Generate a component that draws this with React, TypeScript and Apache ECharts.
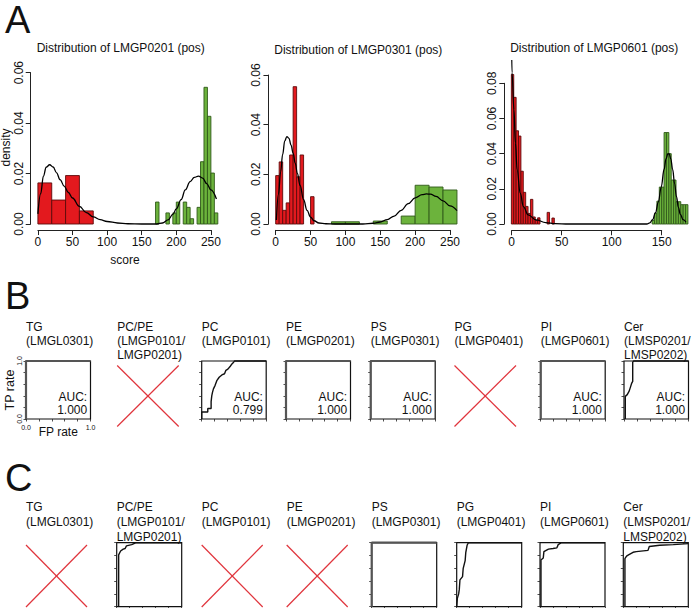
import React, { useEffect, useRef } from "react";
import * as echarts from "echarts";

// ---------------- DATA ----------------
const histTitles = [
  "Distribution of LMGP0201 (pos)",
  "Distribution of LMGP0301 (pos)",
  "Distribution of LMGP0601 (pos)",
];

const a1XTicks = [0, 50, 100, 150, 200, 250];
const a1YTicks = [0, 0.02, 0.04, 0.06];
const a1RedBreaks = [0, 20, 40, 60, 80];
const a1RedDensity = [0.0163, 0.0095, 0.0192, 0.0052];
const a1GreenBreaks = [170, 175, 180, 185, 190, 195, 200, 205, 210, 215, 220, 225, 230, 235, 240, 245, 250, 255, 260];
const a1GreenDensity = [0.0087, 0, 0, 0.0044, 0, 0.0044, 0.0087, 0, 0.0087, 0.0066, 0.0021, 0, 0.0066, 0.0247, 0.0542, 0.0427, 0.0202, 0.0044];
const a1Curve = [
  [0, 0.004], [4, 0.012], [8, 0.019], [12, 0.0225], [17, 0.0235], [22, 0.0226], [27, 0.0203], [32, 0.0176],
  [38, 0.015], [44, 0.0125], [50, 0.0103], [60, 0.007], [70, 0.0045], [80, 0.0028], [90, 0.0017], [100, 0.001],
  [115, 0.0004], [130, 0.0001], [150, 0], [172, 0], [180, 0.0004], [188, 0.0016], [195, 0.0038], [200, 0.006],
  [207, 0.0097], [213, 0.0135], [220, 0.0168], [226, 0.0185], [232, 0.019], [238, 0.0182], [244, 0.016],
  [250, 0.0135], [258, 0.0099],
];

const a2XTicks = [0, 50, 100, 150, 200, 250];
const a2YTicks = [0, 0.02, 0.04, 0.06];
const a2RedBreaks = [0, 5, 10, 15, 20, 25, 30, 35, 40, 45, 50, 55];
const a2RedDensity = [0.0195, 0.025, 0.0055, 0.0085, 0.0278, 0.0553, 0.019, 0.0278, 0, 0, 0.011];
const a2GreenBreaks = [80, 100, 120, 140, 160, 180, 200, 220, 240, 260];
const a2GreenDensity = [0.0009, 0.0009, 0, 0.0012, 0, 0.0032, 0.0156, 0.0149, 0.0137];
const a2Curve = [
  [1, 0.0016], [4, 0.012], [7, 0.021], [10, 0.028], [13, 0.0335], [16, 0.0352], [19, 0.0345], [22, 0.0318],
  [25, 0.0285], [28, 0.0245], [31, 0.0205], [35, 0.0155], [40, 0.0098], [45, 0.0055], [50, 0.0028],
  [55, 0.0013], [62, 0.0004], [72, 0.0001], [85, 0], [125, 0], [140, 0.0003], [150, 0.0008], [160, 0.0018],
  [170, 0.0032], [180, 0.0055], [190, 0.0082], [200, 0.0105], [210, 0.0118], [216, 0.0121], [222, 0.012],
  [230, 0.0111], [240, 0.0093], [250, 0.0073], [260, 0.0054],
];

const a3XTicks = [0, 50, 100, 150];
const a3YTicks = [0, 0.02, 0.04, 0.06, 0.08];
const a3RedBreaks = [0, 2.5, 5, 7.5, 10, 12.5, 15, 17.5, 20, 22.5, 25, 27.5, 30, 32.5, 35, 37.5, 40, 42.5, 45];
const a3RedDensity = [0.085, 0.072, 0.053, 0.05, 0.03, 0.018, 0.01, 0.006, 0.014, 0.004, 0.002, 0.0035, 0, 0, 0, 0.0066, 0, 0.0034];
const a3GreenBreaks = [147.5, 150, 152.5, 155, 157.5, 160, 162.5, 165, 167.5, 170, 172.5, 175, 177.5, 180, 182.5, 185];
const a3GreenDensity = [0.002, 0.006, 0.013, 0.021, 0.021, 0.052, 0.052, 0.04, 0.025, 0.025, 0.0127, 0.0127, 0.011, 0.011, 0.011];
const a3Curve = [
  [0, 0.11], [0.7, 0.086], [2.7, 0.065], [4.3, 0.046], [6, 0.031], [9.3, 0.0175], [12.6, 0.0099],
  [17.6, 0.0052], [26, 0.0023], [36, 0.0008], [46, 0.0002], [60, 0], [142, 0], [145, 0.0006], [148, 0.0025],
  [151, 0.0065], [154, 0.0125], [157, 0.021], [160, 0.031], [162, 0.037], [164, 0.04], [165.5, 0.0398],
  [167, 0.037], [169, 0.031], [171, 0.023], [173, 0.0155], [175, 0.0095], [177, 0.0055], [180, 0.0025], [183, 0.001],
];

const rocNames = [
  ["TG", "(LMGL0301)"],
  ["PC/PE", "(LMGP0101/", "LMGP0201)"],
  ["PC", "(LMGP0101)"],
  ["PE", "(LMGP0201)"],
  ["PS", "(LMGP0301)"],
  ["PG", "(LMGP0401)"],
  ["PI", "(LMGP0601)"],
  ["Cer", "(LMSP0201/", "LMSP0202)"],
];
const rocTicks = [0, 0.2, 0.4, 0.6, 0.8, 1.0];
const rocPerfect = [[0, 0], [0, 1], [1, 1]];
const rocB_PC = [
  [0, 0], [0, 0.12], [0.094, 0.12], [0.094, 0.18], [0.146, 0.18], [0.146, 0.3], [0.156, 0.4], [0.167, 0.46],
  [0.182, 0.52], [0.208, 0.58], [0.234, 0.66], [0.271, 0.72], [0.313, 0.76], [0.354, 0.78], [0.375, 0.84],
  [0.406, 0.86], [0.443, 0.91], [0.469, 0.95], [0.495, 0.98], [0.51, 1], [1, 1],
];
const rocB_Cer = [
  [0.02, 0], [0.02, 0.39], [0.05, 0.42], [0.08, 0.48], [0.1, 0.55], [0.12, 0.62], [0.135, 0.65],
  [0.135, 0.98], [0.15, 1], [1, 1],
];
const rocC_PCPE = [
  [0.03, 0], [0.03, 0.81], [0.06, 0.87], [0.1, 0.9], [0.13, 0.91], [0.15, 0.95], [0.23, 0.97], [0.3, 1], [1, 1],
];
const rocC_PG = [
  [0, 0], [0.01, 0.13], [0.03, 0.2], [0.04, 0.27], [0.05, 0.42], [0.09, 0.47], [0.1, 0.6], [0.13, 0.72],
  [0.14, 0.85], [0.16, 0.96], [0.18, 1], [1, 1],
];
const rocC_PI = [
  [0.015, 0], [0.015, 0.73], [0.05, 0.76], [0.06, 0.86], [0.13, 0.9], [0.2, 0.91], [0.26, 0.92], [0.28, 0.97],
  [0.33, 1], [1, 1],
];
const rocC_Cer = [
  [0.025, 0], [0.025, 0.75], [0.05, 0.79], [0.08, 0.81], [0.15, 0.85], [0.2, 0.86], [0.38, 0.88], [0.4, 0.94],
  [0.56, 0.96], [0.77, 0.97], [1, 0.985],
];
const bCurves = [rocPerfect, null, rocB_PC, rocPerfect, rocPerfect, null, rocPerfect, rocB_Cer];
const bAUC = ["1.000", null, "0.799", "1.000", "1.000", null, "1.000", "1.000"];
const cCurves = [null, rocC_PCPE, null, null, rocPerfect, rocC_PG, rocC_PI, rocC_Cer];
const crossDown = [[0, 1], [1, 0]];
const crossUp = [[0, 0], [1, 1]];

// ---------------- LAYOUT / STYLE ----------------
const FONT = '"Liberation Sans", Arial, Helvetica, sans-serif';
const INK = "#111";
const RED_FILL = "#e3191e";
const RED_EDGE = "#5c0a0a";
const GREEN_FILL = "#6cb33c";
const GREEN_EDGE = "#30591a";
const CROSS = "#e0343c";

const histLayout = [
  { zeroX: 37.9, pxX: 0.692, zeroY: 224, pxY: 2522, xlo: -10.4, xhi: 270.4, ylo: -0.0024, yhi: 0.0624, tx: 120.7, ty: 48 },
  { zeroX: 275.7, pxX: 0.6972, zeroY: 224, pxY: 2483, xlo: -10.4, xhi: 270.4, ylo: -0.0024, yhi: 0.0624, tx: 358.3, ty: 49.5 },
  { zeroX: 511.7, pxX: 1.0, zeroY: 224, pxY: 1759, xlo: -7.4, xhi: 192.4, ylo: -0.00357, yhi: 0.0929, tx: 594.2, ty: 48.3 },
];
const bLefts = [26, 117.2, 201.7, 286, 370.7, 454.5, 540.7, 624];
const cLefts = [26, 116.7, 201.7, 286.7, 371.7, 456.7, 540, 623.3];
const bBox = { top: 361, width: 64.5, height: 58, crossTop: 365.5, crossW: 61.5, crossH: 61, lines: [326.7, 340.9, 355.1] };
const cBox = { top: 542.7, width: 65, height: 64, crossTop: 545, crossW: 61, crossH: 62, lines: [507.3, 522.3, 537.3] };

function buildOption() {
  const grid: any[] = [];
  const xAxis: any[] = [];
  const yAxis: any[] = [];
  const series: any[] = [];
  const graphic: any[] = [];

  const add = (g: any, x: any, y: any) => {
    const i = grid.length;
    grid.push({ containLabel: false, ...g });
    xAxis.push({ gridIndex: i, type: "value", splitLine: { show: false }, ...x });
    yAxis.push({ gridIndex: i, type: "value", splitLine: { show: false }, ...y });
    return i;
  };
  const hid = (min: number, max: number) => ({ show: false, min, max });
  const txt = (text: string, x: number, y: number, size: number, align = "left", rot = 0) => ({
    type: "text",
    x,
    y,
    rotation: rot,
    silent: true,
    style: { text, fill: INK, fontSize: size, fontFamily: FONT, align, verticalAlign: "middle" },
  });
  const visAxis = (ticks: number[], extra: any) => ({
    min: ticks[0],
    max: ticks[ticks.length - 1],
    interval: ticks[1] - ticks[0],
    axisLine: { show: true, lineStyle: { color: "#222", width: 1 } },
    axisTick: { show: true, length: 5, lineStyle: { color: "#222", width: 1 } },
    ...extra,
  });

  const hists = [
    { xt: a1XTicks, yt: a1YTicks, red: [a1RedBreaks, a1RedDensity], green: [a1GreenBreaks, a1GreenDensity], curve: a1Curve },
    { xt: a2XTicks, yt: a2YTicks, red: [a2RedBreaks, a2RedDensity], green: [a2GreenBreaks, a2GreenDensity], curve: a2Curve },
    { xt: a3XTicks, yt: a3YTicks, red: [a3RedBreaks, a3RedDensity], green: [a3GreenBreaks, a3GreenDensity], curve: a3Curve },
  ];

  hists.forEach((h, k) => {
    const L = histLayout[k];
    const left = L.zeroX + L.xlo * L.pxX;
    const width = (L.xhi - L.xlo) * L.pxX;
    const top = L.zeroY - L.yhi * L.pxY;
    const height = (L.yhi - L.ylo) * L.pxY;
    const gi = add({ left, top, width, height }, hid(L.xlo, L.xhi), hid(L.ylo, L.yhi));
    const x0 = h.xt[0], x1 = h.xt[h.xt.length - 1];
    add(
      { left: L.zeroX + x0 * L.pxX, width: (x1 - x0) * L.pxX, top, height },
      visAxis(h.xt, {
        position: "bottom",
        axisLabel: { show: true, color: INK, fontSize: 12, fontFamily: FONT, margin: 6, showMinLabel: true, showMaxLabel: true },
      }),
      hid(0, 1)
    );
    const y0 = h.yt[0], y1 = h.yt[h.yt.length - 1];
    add(
      { left, width, top: L.zeroY - y1 * L.pxY, height: (y1 - y0) * L.pxY },
      hid(0, 1),
      visAxis(h.yt, {
        position: "left",
        axisLabel: {
          show: true, color: INK, fontSize: 12, fontFamily: FONT, margin: 6, rotate: 90,
          showMinLabel: true, showMaxLabel: true,
          formatter: (v: number) => v.toFixed(2),
        },
      })
    );

    const histSeries = (breaks: number[], dens: number[], fill: string, stroke: string) => ({
      type: "custom",
      xAxisIndex: gi,
      yAxisIndex: gi,
      clip: true,
      encode: { x: [0, 1], y: 2 },
      data: dens.map((d, i) => [breaks[i], breaks[i + 1], d]).filter((d) => d[2] > 0),
      renderItem: (_p: any, api: any) => {
        const a = api.coord([api.value(0), api.value(2)]);
        const b = api.coord([api.value(1), 0]);
        return {
          type: "rect",
          shape: { x: a[0], y: a[1], width: b[0] - a[0], height: b[1] - a[1] },
          style: { fill, stroke, lineWidth: 0.9 },
        };
      },
    });
    series.push(histSeries(h.red[0] as number[], h.red[1] as number[], RED_FILL, RED_EDGE));
    series.push(histSeries(h.green[0] as number[], h.green[1] as number[], GREEN_FILL, GREEN_EDGE));
    series.push({
      type: "line",
      xAxisIndex: gi,
      yAxisIndex: gi,
      data: h.curve,
      smooth: 0.4,
      smoothMonotone: "x",
      showSymbol: false,
      clip: true,
      lineStyle: { color: "#000", width: 1.3 },
    });
    graphic.push(txt(histTitles[k], L.tx, L.ty, 12, "center"));
  });
  graphic.push(txt("score", 125, 260, 12, "center"));
  graphic.push(txt("density", 5.5, 147.5, 12, "center", Math.PI / 2));

  const rocRow = (lefts: number[], box: any, curves: any[], aucs: any[] | null, labelled: boolean) => {
    lefts.forEach((lx, i) => {
      rocNames[i].forEach((line, j) => graphic.push(txt(line, lx, box.lines[j], 12, "left")));
      const curve = curves[i];
      if (!curve) {
        const xi = add(
          { left: lx, top: box.crossTop, width: box.crossW, height: box.crossH },
          hid(0, 1),
          hid(0, 1)
        );
        [crossDown, crossUp].forEach((d) =>
          series.push({
            type: "line", xAxisIndex: xi, yAxisIndex: xi, data: d, showSymbol: false, clip: false,
            lineStyle: { color: CROSS, width: 1.2 },
          })
        );
        return;
      }
      const isLab = labelled && i === 0;
      const endFmt = (v: number) => (v === 0 || v === 1 ? v.toFixed(1) : "");
      const gi = add(
        { left: lx, top: box.top, width: box.width, height: box.height, show: true, borderColor: INK, borderWidth: 1.2, backgroundColor: "transparent" },
        {
          min: rocTicks[0], max: rocTicks[rocTicks.length - 1], interval: rocTicks[1] - rocTicks[0],
          axisLine: { show: false },
          axisTick: { show: true, length: 2.5, lineStyle: { color: "#222", width: 0.8 } },
          axisLabel: { show: isLab, fontSize: 7, color: INK, fontFamily: FONT, margin: 5, formatter: endFmt, showMinLabel: true, showMaxLabel: true },
        },
        {
          min: rocTicks[0], max: rocTicks[rocTicks.length - 1], interval: rocTicks[1] - rocTicks[0],
          axisLine: { show: false },
          axisTick: { show: true, length: 2.5, lineStyle: { color: "#222", width: 0.8 } },
          axisLabel: { show: isLab, fontSize: 7, color: INK, fontFamily: FONT, margin: 3, rotate: 90, formatter: endFmt, showMinLabel: true, showMaxLabel: true },
        }
      );
      const perfect = curve === rocPerfect;
      series.push({
        type: "line", xAxisIndex: gi, yAxisIndex: gi, data: curve, showSymbol: false, clip: false,
        lineStyle: { color: perfect ? "#555" : "#111", width: perfect ? 2.2 : 1.4 },
      });
      if (aucs && aucs[i]) {
        const rx = lx + box.width - 3.3;
        graphic.push(txt("AUC:", rx, box.top + 35.7, 12, "right"));
        graphic.push(txt(aucs[i], rx, box.top + 49, 12, "right"));
      }
      if (isLab) {
        graphic.push(txt("TP rate", 10, box.top + box.height / 2, 12.5, "center", Math.PI / 2));
        graphic.push(txt("FP rate", lx + box.width / 2, 431.7, 12, "center"));
      }
    });
  };
  rocRow(bLefts, bBox, bCurves, bAUC, true);
  rocRow(cLefts, cBox, cCurves, null, false);

  graphic.push(txt("A", 5, 19.5, 38, "left"));
  graphic.push(txt("B", 5, 295.5, 38, "left"));
  graphic.push(txt("C", 5, 478, 38, "left"));

  return {
    animation: false,
    backgroundColor: "#ffffff",
    grid,
    xAxis,
    yAxis,
    series,
    graphic,
  };
}

export default function App() {
  const ref = useRef<HTMLDivElement>(null);
  useEffect(() => {
    const chart = echarts.init(ref.current!, null, { renderer: "svg" });
    chart.setOption(buildOption() as any);
    return () => chart.dispose();
  }, []);
  return (
    <div
      ref={ref}
      style={{ position: "absolute", left: 0, top: 0, width: 695, height: 608, background: "#fff" }}
    />
  );
}
